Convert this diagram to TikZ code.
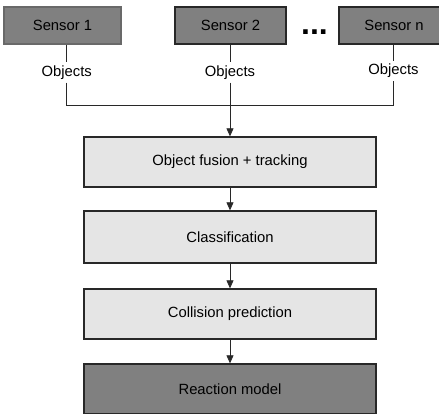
\documentclass[tikz,border=0pt]{standalone}
\usepackage{fontspec}
\setmainfont{Liberation Sans}
\usetikzlibrary{arrows.meta}

\definecolor{darkbox}{RGB}{128,128,128}
\definecolor{lightbox}{RGB}{229,229,229}
\definecolor{boxline}{RGB}{40,40,40}
\definecolor{softline}{RGB}{105,105,105}

\begin{document}
\begin{tikzpicture}
[x=1pt,y=1pt,%
  every node/.style={font=\fontsize{14.8}{17}\selectfont,text=black},%
  sensorbox/.style={rectangle,draw=boxline,line width=1.1pt,fill=darkbox,
    minimum height=37pt,inner sep=0pt},%
  stagebox/.style={rectangle,draw=boxline,line width=1.3pt,fill=lightbox,
    minimum width=292pt,minimum height=50pt,inner sep=0pt},%
  objlabel/.style={inner sep=3pt,minimum height=19pt},%
  link/.style={draw=boxline,line width=0.8pt},%
  flow/.style={link,-{Triangle[length=8pt,width=7pt]}}]
\useasboundingbox (0,0) rectangle (439,414);
% sensors
\node[sensorbox,draw=softline,minimum width=117pt] (sens1) at (62.5,388.5) {Sensor 1};
\node[sensorbox,minimum width=111pt] (sens2) at (230.5,388.5) {Sensor 2};
\node[sensorbox,minimum width=110pt] (sensn) at (394,388.5) {Sensor n};
\node[font=\fontsize{32}{32}\selectfont\bfseries,anchor=base,inner sep=0pt] (dots) at (314.5,379.7) {...};
% labels on the sensor outputs
\node[objlabel] (obj1) at (66.7,341.5) {Objects};
\node[objlabel] (obj2) at (230,341.5) {Objects};
\node[objlabel] (objn) at (393.5,343) {Objects};
\coordinate (bus) at (230,309);
% processing chain
\node[stagebox] (fusion) at (230,252) {Object fusion + tracking};
\node[stagebox,minimum height=52pt] (classif) at (230,177) {Classification};
\node[stagebox] (collision) at (230,100) {Collision prediction};
\node[stagebox,fill=darkbox] (reaction) at (230,25) {Reaction model};
% connectors
\draw[link] (sens1.south -| obj1) -- (obj1);
\draw[link] (obj1) -- (obj1 |- bus) -- (objn |- bus) -- (objn);
\draw[link] (objn) -- (sensn.south -| objn);
\draw[link] (sens2.south -| obj2) -- (obj2);
\draw[flow] (obj2) -- (fusion);
\draw[flow] (fusion) -- (classif);
\draw[flow] (classif) -- (collision);
\draw[flow] (collision) -- (reaction);
\end{tikzpicture}
\end{document}
